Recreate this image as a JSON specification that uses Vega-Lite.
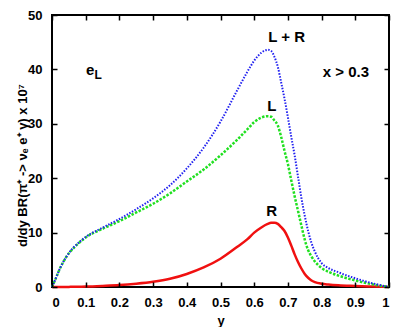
{
  "$schema": "https://vega.github.io/schema/vega-lite/v6.json",
  "width": 337,
  "height": 272,
  "autosize": {"type": "none"},
  "padding": {"left": 52, "top": 15, "right": 20, "bottom": 40},
  "background": "white",
  "config": {
    "view": {"stroke": "black", "strokeWidth": 2},
    "font": "Liberation Sans",
    "axis": {
      "grid": false,
      "labelFont": "Liberation Sans",
      "labelFontWeight": "bold",
      "labelFontSize": 13,
      "labelColor": "black",
      "titleFont": "Liberation Sans",
      "titleFontWeight": "bold",
      "titleFontSize": 13,
      "titleColor": "black"
    },
    "text": {"font": "Liberation Sans", "fontWeight": "bold", "color": "black"}
  },
  "datasets": {
    "curves": [
      {"y": 0, "LR": 0, "L": 0, "R": 0},
      {"y": 0.01, "LR": 1.4, "L": 1.4, "R": 0},
      {"y": 0.02, "LR": 2.9, "L": 2.9, "R": 0},
      {"y": 0.03, "LR": 4.2, "L": 4.2, "R": 0.01},
      {"y": 0.04, "LR": 5.3, "L": 5.3, "R": 0.01},
      {"y": 0.05, "LR": 6.2, "L": 6.2, "R": 0.02},
      {"y": 0.06, "LR": 7.0, "L": 6.9, "R": 0.03},
      {"y": 0.08, "LR": 8.2, "L": 8.1, "R": 0.05},
      {"y": 0.1, "LR": 9.2, "L": 9.1, "R": 0.08},
      {"y": 0.15, "LR": 10.9, "L": 10.7, "R": 0.2},
      {"y": 0.2, "LR": 12.5, "L": 12.1, "R": 0.35},
      {"y": 0.25, "LR": 14.3, "L": 13.7, "R": 0.6},
      {"y": 0.3, "LR": 16.3, "L": 15.3, "R": 0.95},
      {"y": 0.35, "LR": 18.7, "L": 17.2, "R": 1.5},
      {"y": 0.4, "LR": 21.8, "L": 19.4, "R": 2.4},
      {"y": 0.45, "LR": 25.6, "L": 21.6, "R": 3.6},
      {"y": 0.5, "LR": 30.4, "L": 24.2, "R": 5.2},
      {"y": 0.55, "LR": 36.2, "L": 27.1, "R": 7.4},
      {"y": 0.58, "LR": 39.6, "L": 29.0, "R": 8.8},
      {"y": 0.6, "LR": 41.6, "L": 30.3, "R": 10.0},
      {"y": 0.62, "LR": 43.0, "L": 31.1, "R": 10.9},
      {"y": 0.64, "LR": 43.6, "L": 31.4, "R": 11.6},
      {"y": 0.65, "LR": 43.4, "L": 31.3, "R": 11.8},
      {"y": 0.66, "LR": 42.3, "L": 30.6, "R": 11.8},
      {"y": 0.67, "LR": 40.5, "L": 29.7, "R": 11.6},
      {"y": 0.68, "LR": 37.6, "L": 27.6, "R": 11.0},
      {"y": 0.69, "LR": 34.6, "L": 25.0, "R": 10.3},
      {"y": 0.7, "LR": 31.2, "L": 22.6, "R": 9.1},
      {"y": 0.71, "LR": 27.6, "L": 19.6, "R": 7.6},
      {"y": 0.72, "LR": 24.2, "L": 16.7, "R": 6.0},
      {"y": 0.73, "LR": 20.3, "L": 14.0, "R": 4.6},
      {"y": 0.74, "LR": 16.4, "L": 11.3, "R": 3.4},
      {"y": 0.75, "LR": 13.1, "L": 8.7, "R": 2.4},
      {"y": 0.76, "LR": 10.3, "L": 6.8, "R": 1.7},
      {"y": 0.77, "LR": 8.1, "L": 5.6, "R": 1.2},
      {"y": 0.78, "LR": 6.5, "L": 4.7, "R": 0.9},
      {"y": 0.8, "LR": 4.4, "L": 3.5, "R": 0.6},
      {"y": 0.82, "LR": 3.5, "L": 2.8, "R": 0.45},
      {"y": 0.85, "LR": 2.7, "L": 2.1, "R": 0.3},
      {"y": 0.9, "LR": 1.6, "L": 1.2, "R": 0.18},
      {"y": 0.95, "LR": 0.7, "L": 0.5, "R": 0.08},
      {"y": 1.0, "LR": 0, "L": 0, "R": 0}
    ],
    "labels": [
      {"x": 0.696, "y": 46.0, "text": "L + R"},
      {"x": 0.652, "y": 33.2, "text": "L"},
      {"x": 0.652, "y": 13.9, "text": "R"},
      {"x": 0.872, "y": 39.5, "text": "x > 0.3"},
      {"x": 0.113, "y": 39.9, "text": "e"}
    ]
  },
  "layer": [
    {
      "data": {"name": "curves"},
      "mark": {"type": "line", "color": "#f01010", "strokeWidth": 2.5, "interpolate": "monotone"},
      "encoding": {
        "x": {
          "field": "y", "type": "quantitative",
          "scale": {"domain": [0, 1], "nice": false},
          "axis": {"orient": "bottom", "values": [0, 0.1, 0.2, 0.3, 0.4, 0.5, 0.6, 0.7, 0.8, 0.9, 1], "format": "~g", "domain": false, "ticks": true, "tickSize": 5, "tickWidth": 1.5, "tickColor": "#000000", "offset": -5, "zindex": 2, "labelPadding": 9, "title": "y", "titleY": 42, "titleBaseline": "alphabetic"}
        },
        "y": {
          "field": "R", "type": "quantitative",
          "scale": {"domain": [0, 50], "nice": false},
          "axis": {"orient": "left", "values": [0, 10, 20, 30, 40, 50], "domain": false, "ticks": true, "tickSize": 5, "tickWidth": 1.5, "tickColor": "#000000", "offset": -5, "zindex": 2, "labelPadding": 10, "title": "d/dy BR(π⁺ -> νₑ e⁺ γ) x 10⁷", "titleX": -35, "titleY": 150, "titleAngle": -90, "titleAlign": "center", "titleBaseline": "middle"}
        }
      }
    },
    {
      "data": {"name": "curves"},
      "mark": {"type": "line", "color": "#20e020", "strokeWidth": 2.5, "strokeDash": [2.5, 1.5], "interpolate": "monotone"},
      "encoding": {
        "x": {"field": "y", "type": "quantitative", "axis": null},
        "y": {"field": "L", "type": "quantitative", "axis": null}
      }
    },
    {
      "data": {"name": "curves"},
      "mark": {"type": "line", "color": "#2020f0", "strokeWidth": 2, "strokeDash": [1.5, 1.5], "interpolate": "monotone"},
      "encoding": {
        "x": {"field": "y", "type": "quantitative", "axis": null},
        "y": {"field": "LR", "type": "quantitative", "axis": null}
      }
    },
    {
      "data": {"name": "labels"},
      "mark": {"type": "text", "fontSize": 15, "align": "center", "baseline": "middle"},
      "encoding": {
        "x": {"field": "x", "type": "quantitative", "axis": {"orient": "top", "values": [0, 0.1, 0.2, 0.3, 0.4, 0.5, 0.6, 0.7, 0.8, 0.9, 1], "domain": false, "ticks": true, "tickSize": 5, "tickWidth": 1.5, "tickColor": "#000000", "offset": -5, "zindex": 2, "labels": false, "title": null}},
        "y": {"field": "y", "type": "quantitative", "axis": {"orient": "right", "values": [0, 10, 20, 30, 40, 50], "domain": false, "ticks": true, "tickSize": 5, "tickWidth": 1.5, "tickColor": "#000000", "offset": -5, "zindex": 2, "labels": false, "title": null}},
        "text": {"field": "text"}
      }
    },
    {
      "data": {"values": [{"x": 0.137, "y": 38.9, "text": "L"}]},
      "mark": {"type": "text", "fontSize": 12, "align": "center", "baseline": "middle"},
      "encoding": {
        "x": {"field": "x", "type": "quantitative", "axis": null},
        "y": {"field": "y", "type": "quantitative", "axis": null},
        "text": {"field": "text"}
      }
    }
  ],
  "resolve": {"axis": {"x": "independent", "y": "independent"}}
}
